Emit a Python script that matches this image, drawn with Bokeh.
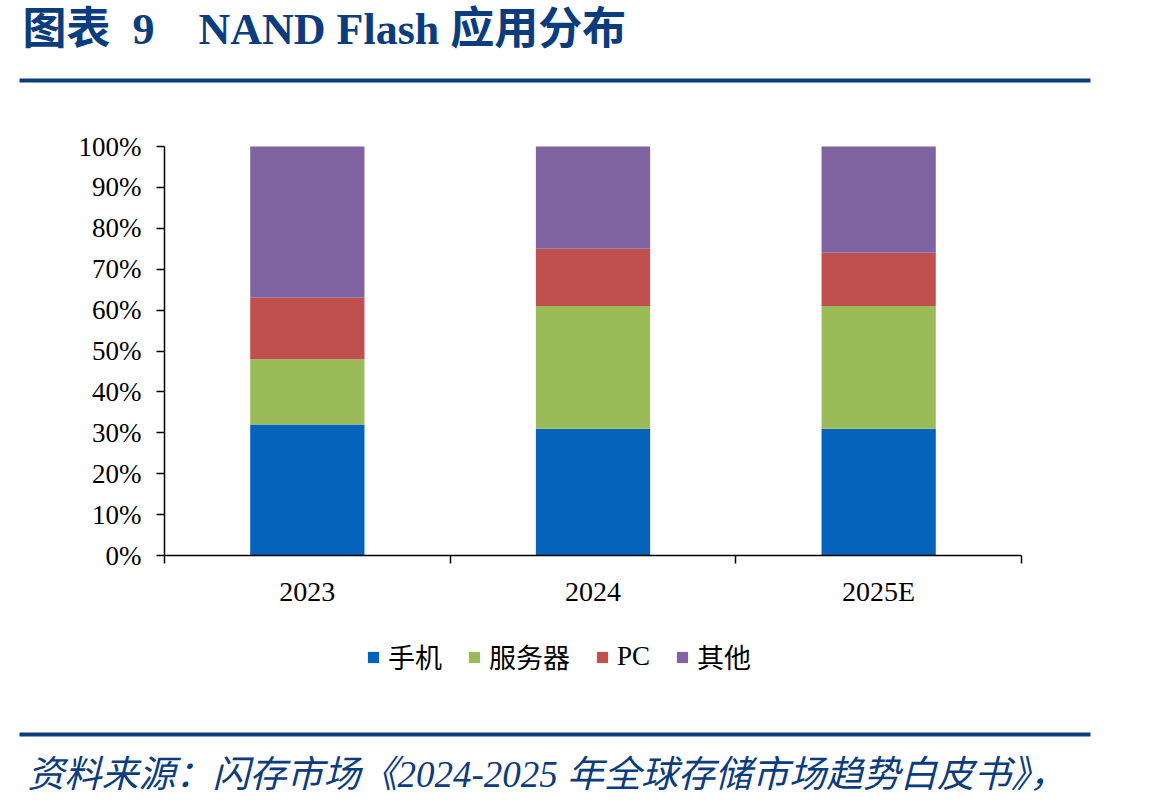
from bokeh.plotting import figure
from bokeh.models import (Range1d, FixedTicker, Label, Legend, LegendItem,
                          BoxAnnotation, ColumnDataSource)
from bokeh.embed import file_html
from bokeh.resources import INLINE

# --- data -------------------------------------------------------------
years = ["2023", "2024", "2025E"]
series = ["手机", "服务器", "PC", "其他"]
phone = [32, 31, 31]
server = [16, 30, 30]
pc = [15, 14, 13]
other = [37, 25, 26]
y_ticks = [0, 10, 20, 30, 40, 50, 60, 70, 80, 90, 100]

colors = ["#0563BB", "#9BBB59", "#C0504D", "#8064A2"]
NAVY = "#0B3C7D"
MIX_FONT = "'Liberation Serif', 'Noto Sans CJK SC'"

# --- page geometry (canvas pixels) ------------------------------------
W, H = 1149, 803
LEFT, RIGHT, TOP, BOTTOM = 164, 1021, 146, 555
n = len(years)
px_x = (RIGHT - LEFT) / n          # pixels per category
px_y = (BOTTOM - TOP) / 100        # pixels per percent

centers = [i + 0.5 for i in range(n)]
bounds = list(range(n + 1))
keys = ["phone", "server", "pc", "other"]
source = ColumnDataSource(dict(x=centers, phone=phone, server=server, pc=pc, other=other))

# the plot frame covers the whole page; axes sit inside it at fixed positions
p = figure(width=W, height=H,
           x_range=Range1d(-LEFT / px_x, n + (W - RIGHT) / px_x),
           y_range=Range1d(-(H - BOTTOM) / px_y, 100 + TOP / px_y),
           output_backend="svg", toolbar_location=None,
           min_border=0, min_border_left=0, min_border_right=0,
           min_border_top=0, min_border_bottom=0)
p.outline_line_color = None
p.xgrid.visible = False
p.ygrid.visible = False
p.background_fill_color = "white"
p.border_fill_color = "white"

renderers = p.vbar_stack(keys, x="x", width=0.4, color=colors, line_color=None, source=source)

# y axis: percentage ticks
ya = p.yaxis[0]
ya.fixed_location = 0
ya.bounds = (0, 100)
ya.ticker = FixedTicker(ticks=y_ticks, minor_ticks=[])
ya.major_label_overrides = {t: f"{t}%" for t in y_ticks}
ya.major_tick_out = 8
ya.major_tick_in = 0
ya.minor_tick_out = 0
ya.minor_tick_in = 0
ya.axis_line_width = 1.5
ya.major_tick_line_width = 1.5
ya.axis_line_color = "black"
ya.major_tick_line_color = "black"
ya.major_label_text_font = "Liberation Serif"
ya.major_label_text_font_size = "27px"
ya.major_label_text_color = "black"
ya.major_label_standoff = 15

# x axis: labels centred under bars, tick marks between categories
xa = p.xaxis[0]
xa.fixed_location = 0
xa.bounds = (0, n)
xa.ticker = FixedTicker(ticks=centers, minor_ticks=bounds)
xa.major_label_overrides = {c: y for c, y in zip(centers, years)}
xa.major_tick_out = 0
xa.major_tick_in = 0
xa.minor_tick_out = 8
xa.minor_tick_in = 0
xa.axis_line_width = 1.5
xa.minor_tick_line_width = 1.5
xa.axis_line_color = "black"
xa.minor_tick_line_color = "black"
xa.major_label_text_font = "Liberation Serif"
xa.major_label_text_font_size = "28px"
xa.major_label_text_color = "black"
xa.major_label_standoff = 12

# legend below the axis labels
legend = Legend(items=[LegendItem(label=s, renderers=[r]) for s, r in zip(series, renderers)],
                orientation="horizontal", location=(366, H - 676),
                glyph_width=14, glyph_height=14, label_standoff=8, spacing=25,
                label_height=32, padding=0, margin=0,
                border_line_color=None, background_fill_alpha=0,
                label_text_font=MIX_FONT, label_text_font_size="27px",
                label_text_color="black")
p.add_layout(legend)


def sy(y):
    # page y (from top) -> screen y (from bottom)
    return H - y


# heading
p.add_layout(Label(x=22, y=sy(29), x_units="screen", y_units="screen",
                   text="图表\u00a0\u00a09\u3000NAND Flash 应用分布", text_font=MIX_FONT,
                   text_font_size="44px", text_font_style="bold", text_color=NAVY,
                   text_baseline="alphabetic"))

# rules above and below the chart body
for y0 in (80, 734):
    p.add_layout(BoxAnnotation(left=19, right=1090, top=sy(y0 - 2), bottom=sy(y0 + 2),
                               left_units="screen", right_units="screen",
                               top_units="screen", bottom_units="screen",
                               fill_color=NAVY, fill_alpha=1, line_color=None))

# source note
p.add_layout(Label(x=27, y=sy(774), x_units="screen", y_units="screen",
                   text="资料来源：闪存市场《2024-2025 年全球存储市场趋势白皮书》，",
                   text_font=MIX_FONT, text_font_size="37px", text_font_style="italic",
                   text_color=NAVY, text_baseline="alphabetic"))

open("out.html", "w").write(file_html(p, INLINE))
